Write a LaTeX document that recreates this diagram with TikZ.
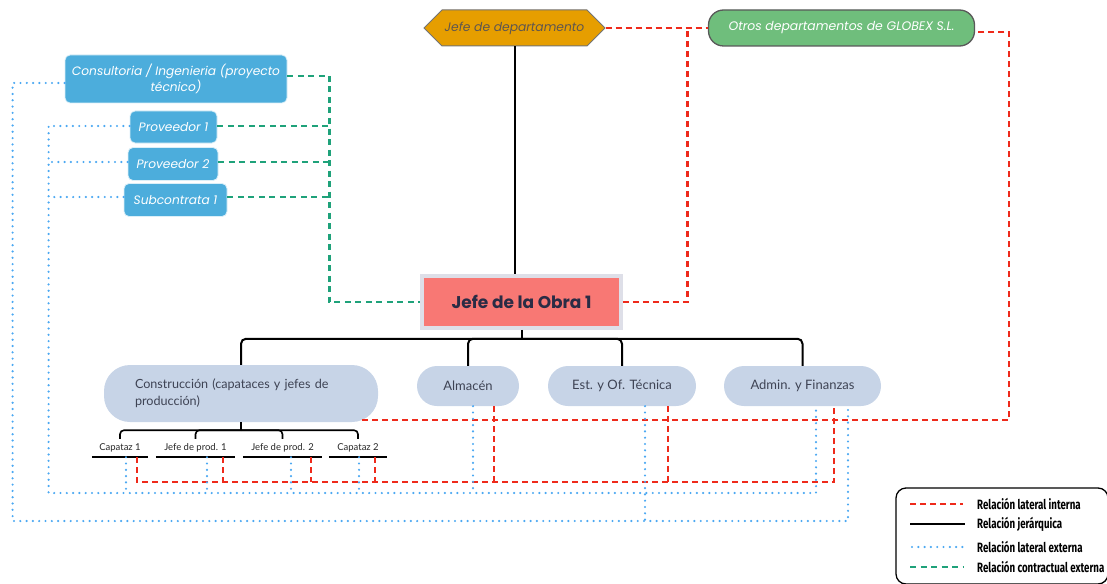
\documentclass[tikz,border=0pt]{standalone}
\usepackage{fontspec}
\setmainfont{Lato}
\newfontfamily\boxfont{Poppins}
\newfontfamily\legfont[FakeStretch=0.72]{Fira Sans}
\usetikzlibrary{calc,shapes.symbols}

\definecolor{relred}{HTML}{EE2A1B}
\definecolor{relblue}{HTML}{4BA8F2}
\definecolor{relgreen}{HTML}{1FA27A}
\definecolor{boxblue}{HTML}{4CADDC}
\definecolor{pillfill}{HTML}{C7D4E7}
\definecolor{pilltext}{HTML}{3E4354}
\definecolor{deptorange}{HTML}{E69E00}
\definecolor{depttext}{HTML}{5E5650}
\definecolor{obrafill}{HTML}{F87874}
\definecolor{obraframe}{HTML}{DEDFE8}
\definecolor{obratext}{HTML}{2A2C45}
\definecolor{globexfill}{HTML}{6FBE7C}

\tikzset{
  hier/.style={draw=black, line width=2pt},
  relint/.style={draw=relred, line width=2.4pt, dash pattern=on 6pt off 4pt},
  relext/.style={draw=relblue, line width=2.4pt, line cap=round, dash pattern=on 0pt off 6.3pt},
  relcon/.style={draw=relgreen, line width=2.4pt, dash pattern=on 6pt off 4.5pt},
  extbox/.style={fill=boxblue, draw=white!80!boxblue, line width=0.8pt, rounded corners=5pt,
    text=white, font=\boxfont\itshape\fontsize{12.2}{16}\selectfont, inner sep=0pt, align=center},
  pillbox/.style={fill=pillfill, rounded corners=20pt, text=pilltext,
    font=\fontsize{13}{17}\selectfont, inner sep=0pt},
  subitem/.style={font=\fontsize{9.5}{11}\selectfont, text=black!85, inner sep=0pt, minimum height=18pt},
  legtxt/.style={anchor=west, font=\legfont\bfseries\fontsize{13.5}{15}\selectfont, inner sep=0pt},
}

\begin{document}
\begin{tikzpicture}[x=1pt, y=-1pt]
\path[use as bounding box, clip] (0,0) rectangle (1107,583);

% ---- top level
\node[shape=signal, signal to=west and east, signal pointer angle=90,
      fill=deptorange, draw=black!55, line width=1pt, minimum width=181pt, minimum height=36pt,
      inner sep=0pt, text=depttext, font=\boxfont\itshape\fontsize{12.3}{14}\selectfont]
      (jdd) at (514.5,28) {Jefe de departamento};
\node[fill=globexfill, draw=black!65, line width=1.3pt, rounded corners=15pt,
      minimum width=266pt, minimum height=36pt, inner sep=0pt, text=white,
      font=\boxfont\itshape\fontsize{12.4}{14}\selectfont]
      (otros) at (841.5,28) {Otros departamentos de GLOBEX S.L.};

% ---- external partners
\node[extbox, minimum width=222pt, minimum height=48pt] (consult) at (176,79)
      {Consultoria / Ingenieria (proyecto\\técnico)};
\node[extbox, minimum width=87pt, minimum height=32pt] (prov1) at (173.5,127) {Proveedor 1};
\node[extbox, minimum width=90pt, minimum height=33pt] (prov2) at (173,164) {Proveedor 2};
\node[extbox, minimum width=103pt, minimum height=33pt] (subc) at (175.5,200) {Subcontrata 1};

% ---- site manager
\node[fill=obrafill, draw=obraframe, line width=3.5pt, minimum width=199pt, minimum height=52pt,
      inner sep=0pt, text=obratext, font=\boxfont\bfseries\fontsize{17}{20}\selectfont]
      (obra) at (521.5,302) {Jefe de la Obra 1};

% ---- departments
\node[pillbox, rounded corners=26pt, minimum width=274pt, minimum height=57pt,
      text width=212pt, align=left, font=\fontsize{12.6}{17}\selectfont] (constr) at (241,393.5)
      {Construcción (capataces y jefes de\\producción)};
\node[pillbox, minimum width=102pt, minimum height=40pt] (almacen) at (468,386) {Almacén};
\node[pillbox, minimum width=148pt, minimum height=40pt] (est) at (622,386) {Est. y Of. Técnica};
\node[pillbox, minimum width=157pt, minimum height=40pt] (admin) at (802.5,386) {Admin. y Finanzas};

% ---- site staff
\node[subitem, minimum width=56pt] (c1) at (120,448) {Capataz 1};
\node[subitem, minimum width=79pt] (j1) at (195.5,448) {Jefe de prod. 1};
\node[subitem, minimum width=79pt] (j2) at (282.5,448) {Jefe de prod. 2};
\node[subitem, minimum width=58pt] (c2) at (358,448) {Capataz 2};
\foreach \n in {c1,j1,j2,c2} \draw[hier, line width=1.6pt] (\n.south west) -- (\n.south east);

% ---- hierarchy
\draw[hier] (jdd.south) -- (jdd.south |- obra.north);
\draw[hier] (obra.south) -- ++(0,9) coordinate (tb);
\draw[hier, rounded corners=5pt] (constr.north) |- (tb) -| (admin.north);
\draw[hier, rounded corners=5pt] (almacen.north) |- (tb);
\draw[hier, rounded corners=5pt] (est.north) |- (tb);
\draw[hier] (constr.south) -- ++(0,8) coordinate (sb);
\draw[hier, line width=1.6pt, rounded corners=4pt] (c1.north) |- (sb) -| (c2.north);
\draw[hier, line width=1.6pt, rounded corners=4pt] (j1.north) |- (sb);
\draw[hier, line width=1.6pt, rounded corners=4pt] (j2.north) |- (sb);

% ---- internal lateral relations
\draw[relint] (jdd.east) -- (otros.west);
\draw[relint] (obra.east) -| ($(jdd.east)!0.8!(otros.west)$);
\draw[relint] ([shift={(-16,-2)}]constr.south east) -| ([shift={(34,4)}]otros.east)
              -- ([shift={(0,4)}]otros.east);
\draw[relint] ([xshift=17pt]c1.south) -- ++(0,25) -| ([xshift=31.5pt]admin.south);
\draw[relint] ([xshift=27.5pt]j1.south) -- ++(0,25);
\draw[relint] ([xshift=28.5pt]j2.south) -- ++(0,25);
\draw[relint] ([xshift=17pt]c2.south) -- ++(0,25);
\draw[relint] ([xshift=26pt]almacen.south) -- ++(0,76);
\draw[relint] ([xshift=46pt]est.south) -- ++(0,76);

% ---- external lateral relations
\draw[relext] ([shift={(0,4)}]consult.west) -- ++(-52,0) -- ++(0,438) -| ([xshift=45.5pt]admin.south);
\draw[relext] ([xshift=23pt]est.south) -- ++(0,115);
\draw[relext] ([shift={(0,-1)}]prov1.west) -- ++(-81,0) -- ++(0,367) -| ([xshift=13.5pt]admin.south);
\draw[relext] ([shift={(0,-2)}]prov2.west) -- ++(-79,0);
\draw[relext] ([shift={(0,-3)}]subc.west) -- ++(-75,0);
\draw[relext] ([xshift=5pt]almacen.south) -- ++(0,87);
\draw[relext] ([xshift=6pt]c1.south) -- ++(0,36);
\draw[relext] ([xshift=11.5pt]j1.south) -- ++(0,36);
\draw[relext] ([xshift=8.5pt]j2.south) -- ++(0,36);
\draw[relext] ([xshift=1pt]c2.south) -- ++(0,36);

% ---- contractual relations
\draw[relcon] ([shift={(0,-3)}]consult.east) -- ++(42,0) |- (obra.west);
\draw[relcon] ([shift={(0,-1)}]prov1.east) -- ++(112,0);
\draw[relcon] ([shift={(0,-2)}]prov2.east) -- ++(111,0);
\draw[relcon] ([shift={(0,-3)}]subc.east) -- ++(102,0);

% ---- legend
\draw[black, line width=1.3pt, rounded corners=10pt] (896,488) rectangle (1108,584);
\node[legtxt] (l1) at (977,504) {Relación lateral interna};
\node[legtxt] (l2) at (977,524) {Relación jerárquica};
\node[legtxt] (l3) at (977,547) {Relación lateral externa};
\node[legtxt] (l4) at (977,567) {Relación contractual externa};
\draw[relint] ([xshift=-67pt]l1.west) -- ([xshift=-14pt]l1.west);
\draw[hier]   ([xshift=-67pt]l2.west) -- ([xshift=-12pt]l2.west);
\draw[relext] ([xshift=-65pt]l3.west) -- ([xshift=-12pt]l3.west);
\draw[relcon] ([xshift=-67pt]l4.west) -- ([xshift=-14pt]l4.west);
\end{tikzpicture}
\end{document}
